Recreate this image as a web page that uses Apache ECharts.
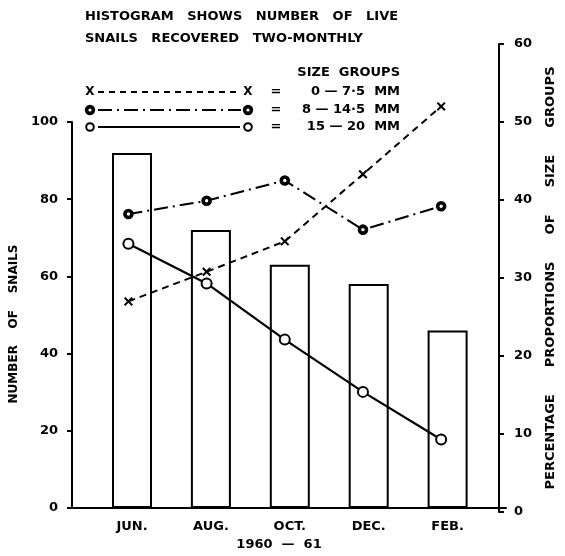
<!DOCTYPE html>
<html>
<head>
<meta charset="utf-8">
<script src="https://cdn.jsdelivr.net/npm/echarts@6/dist/echarts.min.js"></script>
<style>
html,body{margin:0;padding:0;background:#fff;}
#chart{width:565px;height:556px;}
</style>
</head>
<body>
<div id="chart"></div>
<script>
// ---- data ----
const months = ['JUN.', 'AUG.', 'OCT.', 'DEC.', 'FEB.'];
const positions = [1, 2, 3, 4, 5];
const liveSnails = [92, 72, 63, 58, 46];           // histogram, left axis
const group0to7 = [27.0, 30.8, 34.7, 43.3, 52.0];  // 0 - 7.5 mm, right axis (%)
const group8to14 = [38.2, 39.9, 42.5, 36.2, 39.2]; // 8 - 14.5 mm
const group15to20 = [34.4, 29.3, 22.1, 15.4, 9.3]; // 15 - 20 mm
const legendLabels = ['0 — 7·5  MM', '8 — 14·5  MM', '15 — 20  MM'];

const FONT = 'DejaVu Sans';
const pair = (vals) => vals.map((v, i) => [positions[i], v]);
const XPATH = 'path://M0,1.6 L1.6,0 L5,3.4 L8.4,0 L10,1.6 L6.6,5 L10,8.4 L8.4,10 L5,6.6 L1.6,10 L0,8.4 L3.4,5 Z';

const chart = echarts.init(document.getElementById('chart'));

const txt = (x, y, s, align, size) => ({
  type: 'text', x: x, y: y,
  style: { text: s, fill: '#000', font: 'bold ' + (size || 13) + 'px "' + FONT + '"', align: align || 'left', verticalAlign: 'middle' }
});
const rowY = [92, 110, 127];

const graphics = [
  txt(400, 73, 'SIZE  GROUPS', 'right'),
  // row 1
  txt(90, rowY[0], 'X', 'center', 12),
  { type: 'line', shape: { x1: 98, y1: rowY[0], x2: 241, y2: rowY[0] }, style: { stroke: '#000', lineWidth: 2, lineDash: [6, 5] } },
  txt(248, rowY[0], 'X', 'center', 12),
  // row 2
  { type: 'circle', shape: { cx: 90, cy: rowY[1], r: 3.4 }, style: { fill: '#fff', stroke: '#000', lineWidth: 3.6 } },
  { type: 'line', shape: { x1: 98, y1: rowY[1], x2: 241, y2: rowY[1] }, style: { stroke: '#000', lineWidth: 2, lineDash: [14, 5, 2, 5] } },
  { type: 'circle', shape: { cx: 248, cy: rowY[1], r: 3.4 }, style: { fill: '#fff', stroke: '#000', lineWidth: 3.6 } },
  // row 3
  { type: 'circle', shape: { cx: 90, cy: rowY[2], r: 3.8 }, style: { fill: '#fff', stroke: '#000', lineWidth: 2 } },
  { type: 'line', shape: { x1: 98, y1: rowY[2], x2: 240, y2: rowY[2] }, style: { stroke: '#000', lineWidth: 2 } },
  { type: 'circle', shape: { cx: 248, cy: rowY[2], r: 3.8 }, style: { fill: '#fff', stroke: '#000', lineWidth: 2 } }
];
rowY.forEach((y, i) => {
  graphics.push(txt(276, y, '=', 'center'));
  graphics.push(txt(400, y, legendLabels[i], 'right'));
});

const axisText = { color: '#000', fontFamily: FONT, fontWeight: 'bold', fontSize: 13 };

chart.setOption({
  backgroundColor: '#fff',
  animation: false,
  title: {
    text: 'HISTOGRAM   SHOWS   NUMBER   OF   LIVE\nSNAILS   RECOVERED   TWO-MONTHLY',
    left: 85, top: 6, padding: 0,
    textStyle: { color: '#000', fontFamily: FONT, fontWeight: 'bold', fontSize: 13, lineHeight: 22 }
  },
  graphic: graphics,
  grid: [
    { left: 69, right: 59, top: 122, bottom: 44 },
    { left: 69, right: 59, top: 44, bottom: 44 }
  ],
  xAxis: [
    {
      gridIndex: 0, type: 'value', min: 0.24, max: 5.74,
      axisLine: { show: true, onZero: false, lineStyle: { color: '#000', width: 2 } },
      axisTick: { show: false },
      splitLine: { show: false },
      axisLabel: {
        customValues: positions, margin: 12,
        formatter: (v) => months[positions.indexOf(Math.round(v))] || '',
        color: '#000', fontFamily: FONT, fontWeight: 'bold', fontSize: 13
      },
      name: '1960  —  61', nameLocation: 'middle', nameGap: 30,
      nameTextStyle: { color: '#000', fontFamily: FONT, fontWeight: 'bold', fontSize: 13, padding: [0, 20, 0, 0] }
    },
    { gridIndex: 1, type: 'value', min: 0.24, max: 5.74, show: false }
  ],
  yAxis: [
    {
      gridIndex: 0, type: 'value', position: 'left', min: 0, max: 100, interval: 20,
      axisLine: { show: true, lineStyle: { color: '#000', width: 2 } },
      axisTick: { show: true, length: 5, lineStyle: { color: '#000', width: 2 } },
      splitLine: { show: false },
      axisLabel: Object.assign({ margin: 14 }, axisText),
      name: 'NUMBER    OF    SNAILS', nameLocation: 'middle', nameRotate: 90, nameGap: 48,
      nameTextStyle: Object.assign({}, axisText, { fontSize: 12, padding: [0, 0, 0, -18] })
    },
    {
      gridIndex: 1, type: 'value', position: 'right', min: 0, max: 60, interval: 10,
      axisLine: { show: true, lineStyle: { color: '#000', width: 2 } },
      axisTick: { show: true, length: 5, lineStyle: { color: '#000', width: 2 } },
      splitLine: { show: false },
      axisLabel: Object.assign({ margin: 15 }, axisText),
      name: 'PERCENTAGE      PROPORTIONS      OF      SIZE      GROUPS', nameLocation: 'middle', nameRotate: 90, nameGap: 45,
      nameTextStyle: Object.assign({}, axisText, { fontSize: 13 })
    }
  ],
  series: [
    {
      type: 'bar', xAxisIndex: 0, yAxisIndex: 0, data: pair(liveSnails), barWidth: 40, z: 1,
      itemStyle: { color: '#fff', borderColor: '#000', borderWidth: 2 }
    },
    {
      type: 'line', xAxisIndex: 1, yAxisIndex: 1, data: pair(group0to7), z: 5,
      symbol: XPATH, symbolSize: 9,
      lineStyle: { color: '#000', width: 2, type: [7, 5] },
      itemStyle: { color: '#000' }
    },
    {
      type: 'line', xAxisIndex: 1, yAxisIndex: 1, data: pair(group8to14), z: 5,
      symbol: 'circle', symbolSize: 7,
      lineStyle: { color: '#000', width: 2, type: [14, 5, 2, 5] },
      itemStyle: { color: '#fff', borderColor: '#000', borderWidth: 3.6 }
    },
    {
      type: 'line', xAxisIndex: 1, yAxisIndex: 1, data: pair(group15to20), z: 5,
      symbol: 'circle', symbolSize: 10,
      lineStyle: { color: '#000', width: 2.2 },
      itemStyle: { color: '#fff', borderColor: '#000', borderWidth: 2 }
    }
  ]
});
</script>
</body>
</html>
